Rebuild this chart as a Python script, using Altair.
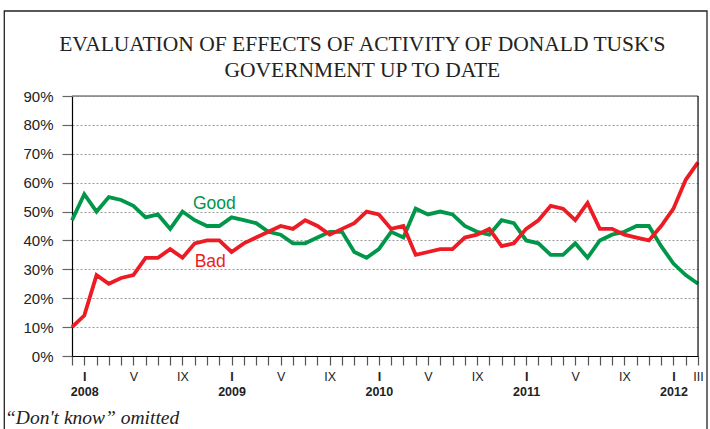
import json
import altair as alt
import pandas as pd

# ---- data (monthly, Dec 2007 .. Mar 2012) ----
month_index = list(range(52))
good = [47, 56, 50, 55, 54, 52, 48, 49, 44, 50, 47, 45, 45, 48,
        47, 46, 43, 42, 39, 39, 41, 43, 43, 36, 34, 37, 43, 41, 51, 49, 50, 49,
        45, 43, 42, 47, 46, 40, 39, 35, 35, 39, 34, 40, 42, 43, 45, 45, 38, 32, 28, 25]
bad = [10, 14, 28, 25, 27, 28, 34, 34, 37, 34, 39, 40, 40, 36,
       39, 41, 43, 45, 44, 47, 45, 42, 44, 46, 50, 49, 44, 45, 35, 36, 37, 37,
       41, 42, 44, 38, 39, 44, 47, 52, 51, 47, 53, 44, 44, 42, 41, 40, 45, 51, 61, 67]
series_names = ["Good", "Bad"]
series_colors = ["#00974a", "#ed1c24"]
roman = ["I", "II", "III", "IV", "V", "VI", "VII", "VIII", "IX", "X", "XI", "XII"]
years = ["2008", "2009", "2010", "2011", "2012"]
y_ticks = [0, 10, 20, 30, 40, 50, 60, 70, 80, 90]
title_lines = ["EVALUATION OF EFFECTS OF ACTIVITY OF DONALD TUSK'S",
               "GOVERNMENT UP TO DATE"]
footnote = "\u201cDon't know\u201d omitted"

# tick labels: roman month for I, V, IX (plus last month), year under January
tick_labels = []
for i in month_index:
    m = (i + 11) % 12
    if m == 0:
        tick_labels.append([roman[0], years[(i - 1) // 12]])
    elif m in (4, 8) or i == month_index[-1]:
        tick_labels.append(roman[m])
    else:
        tick_labels.append("")

df = pd.DataFrame({
    "idx": month_index * 2,
    "value": good + bad,
    "series": ["Good"] * len(good) + ["Bad"] * len(bad),
})
labels_df = pd.DataFrame({
    "idx": [11.6, 11.26],
    "value": [50.8, 30.7],
    "series": series_names,
})
one = pd.DataFrame({"k": [0]})

color_scale = alt.Scale(domain=series_names, range=series_colors)

x_axis = alt.Axis(
    values=month_index,
    labelExpr=json.dumps(tick_labels) + "[datum.value]",
    title=None, grid=False,
    tickSize=9, tickColor="#555", tickWidth=1.2,
    domainColor="#000", domainWidth=1.2,
    labelFont="Liberation Sans", labelFontSize=12.5, labelColor="#222",
    labelPadding=5, labelLineHeight=15,
    labelFlush=False, labelOverlap=False, labelBound=False,
    labelFontWeight={"condition": {"test": "datum.value % 12 == 1", "value": "bold"},
                     "value": "normal"},
)
y_axis = alt.Axis(
    values=y_ticks,
    labelExpr="datum.value + '%'",
    title=None,
    tickSize=10, tickColor="#666", tickWidth=1.2,
    domainColor="#000", domainWidth=1.2,
    labelFont="Liberation Sans", labelFontSize=15, labelColor="#222",
    labelPadding=9,
    grid=True, gridColor="#9a9a9a", gridDash=[2, 2], gridWidth=1,
)
x_scale = alt.Scale(domain=[0, 51], nice=False, zero=False)
y_scale = alt.Scale(domain=[0, 90], nice=False)
x_enc = alt.X("idx:Q", scale=x_scale, axis=x_axis)
y_enc = alt.Y("value:Q", scale=y_scale, axis=y_axis)

lines = alt.Chart(df).mark_line(strokeWidth=3.8, strokeJoin="miter").encode(
    x=x_enc, y=y_enc,
    color=alt.Color("series:N", scale=color_scale, legend=None),
    detail="series:N",
)

top_rule = alt.Chart(pd.DataFrame({"value": [y_ticks[-1]]})).mark_rule(
    color="#808080", strokeWidth=1.3).encode(y=y_enc)
right_rule = alt.Chart(pd.DataFrame({"idx": [month_index[-1]]})).mark_rule(
    color="#222", strokeWidth=1.3).encode(x=x_enc)

series_text = alt.Chart(labels_df).mark_text(
    font="Liberation Sans", fontSize=17.5, align="center", baseline="alphabetic"
).encode(
    x=x_enc, y=y_enc,
    text="series:N",
    color=alt.Color("series:N", scale=color_scale, legend=None),
)

title = alt.Chart(one).mark_text(
    font="Liberation Serif", fontSize=21.5, align="center", baseline="alphabetic",
    color="#222", lineHeight=26,
).encode(x=alt.value(290.3), y=alt.value(-45.5), text=alt.value(title_lines))

note = alt.Chart(one).mark_text(
    font="Liberation Serif", fontStyle="italic", fontSize=19.5, align="left",
    baseline="alphabetic", color="#222"
).encode(x=alt.value(-67), y=alt.value(328), text=alt.value(footnote))

frame = alt.Chart(one).mark_rect(
    fillOpacity=0, stroke="#222", strokeWidth=1.3
).encode(x=alt.value(-67.7), x2=alt.value(635), y=alt.value(-85), y2=alt.value(345))

chart = alt.layer(lines, top_rule, right_rule, series_text, title, note, frame).properties(
    width=626,
    height=260,
    autosize=alt.AutoSizeParams(type="none"),
    padding={"left": 72, "top": 96, "right": 12, "bottom": 73},
).configure_view(stroke=None).configure(background="white")

chart.save("out.html", embed_options={"renderer": "svg", "actions": False})
